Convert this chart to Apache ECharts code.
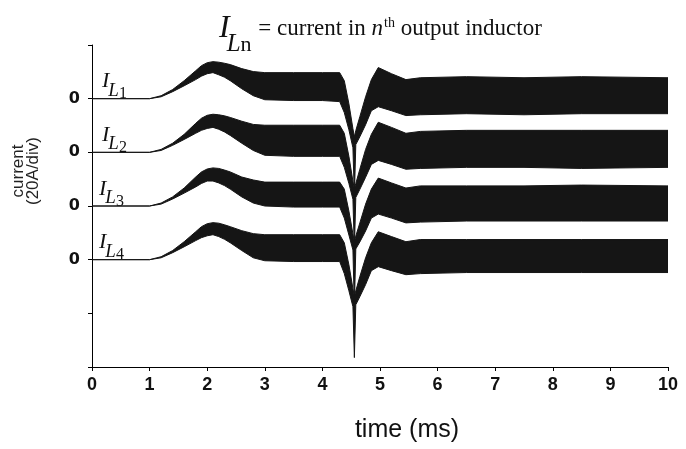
<!DOCTYPE html>
<html>
<head>
<meta charset="utf-8">
<script src="https://cdn.jsdelivr.net/npm/echarts@6/dist/echarts.min.js"></script>
<style>
html,body{margin:0;padding:0;background:#fff;}
#chart{width:686px;height:449px;}
</style>
</head>
<body>
<div id="chart"></div>
<script>
// ---- data (time in ms, current envelopes in A, relative to each trace's zero) ----
const timeMs = [0, 1.0, 1.2, 1.4, 1.6, 1.8, 1.9, 2.0, 2.1, 2.2, 2.3, 2.4, 2.6, 2.8, 3.0, 3.5, 4.0, 4.3, 4.38, 4.46, 4.53, 4.555, 4.58, 4.65, 4.75, 4.85, 4.97, 5.2, 5.45, 5.7, 6.5, 7.5, 8.5, 10.0];

const il1Upper = [0,0,1.1,3.4,6.7,10.4,12.3,13.4,13.8,13.6,13.2,12.7,11.2,10.1,9.7,9.7,9.7,9.7,6.7,-1.9,-11.2,-14.2,-11.9,-6.7,0.7,7.1,11.6,9.3,7.1,7.8,8.2,7.8,8.2,7.8];
const il1Lower = [0,0,0.7,2.6,4.8,7.1,8.4,9.3,9.7,8.9,8.0,6.7,3.7,1.1,-0.4,-0.7,-0.7,-1.1,-5.2,-11.6,-18.3,-36.5,-17.1,-14.2,-9.7,-4.5,-3.0,-4.5,-6.3,-6.0,-5.6,-6.0,-5.6,-5.6];

const il2Upper = [0,0,1.1,3.4,6.7,10.8,12.7,13.8,14.2,14.0,13.6,13.0,11.6,10.4,10.1,10.1,10.1,10.1,7.1,-1.5,-10.8,-13.8,-11.6,-6.3,1.1,6.7,11.2,9.3,7.1,7.8,8.2,8.2,8.2,8.2];
const il2Lower = [0,0,0.7,2.6,4.8,7.1,8.2,8.9,9.3,8.6,7.6,6.3,3.4,0.7,-1.1,-1.5,-1.5,-1.5,-5.6,-11.6,-17.5,-36.2,-16.8,-13.8,-9.3,-4.5,-3.0,-4.5,-6.3,-6.0,-5.6,-5.6,-6.0,-5.6];

const il3Upper = [0,0,1.1,3.4,6.7,10.8,12.7,13.8,14.2,14.0,13.4,12.7,10.8,9.7,8.9,8.9,8.9,8.9,6.3,-1.9,-10.4,-13.4,-11.2,-6.3,0.7,6.3,10.4,8.6,6.7,7.5,7.5,7.5,7.8,7.5];
const il3Lower = [0,0,0.7,2.6,4.8,7.1,8.4,9.3,9.3,8.6,7.6,6.3,3.4,1.1,0,-0.4,-0.4,-0.4,-4.5,-10.8,-16.4,-37.6,-16.0,-13.4,-9.3,-4.5,-3.0,-4.5,-6.3,-6.0,-5.6,-5.6,-5.6,-5.6];

const il4Upper = [0,0,1.1,3.4,6.7,10.4,12.3,13.4,13.8,13.6,13.0,12.3,10.8,9.7,9.3,9.3,9.3,9.3,6.3,-1.9,-10.8,-13.8,-11.6,-6.3,0.7,6.3,10.4,8.6,6.7,7.5,7.5,7.5,7.5,7.5];
const il4Lower = [0,0,0.7,2.6,4.8,7.1,8.2,8.9,9.3,8.6,7.6,6.3,3.4,0.7,-0.4,-0.7,-0.7,-0.7,-5.2,-11.6,-17.5,-36.5,-16.8,-13.8,-9.3,-4.1,-2.6,-4.1,-5.6,-5.2,-4.8,-4.8,-4.8,-4.8];

const traceIndices = ['1', '2', '3', '4'];
const xTickLabels = ['0','1','2','3','4','5','6','7','8','9','10'];
const ampsPerDiv = 20;

const traces = [
  {upper: il1Upper, lower: il1Lower},
  {upper: il2Upper, lower: il2Lower},
  {upper: il3Upper, lower: il3Lower},
  {upper: il4Upper, lower: il4Lower}
];

// trace i sits with its zero at division (5 - i) of a 6-division axis
const zeroOf = i => (5 - i) * ampsPerDiv;

const INK = '#151515';
const series = traces.map((tr, i) => {
  const base = zeroOf(i);
  return {
    type: 'custom', coordinateSystem: 'cartesian2d', silent: true, clip: true,
    data: timeMs.map((t, k) => [t, base + tr.upper[k], base + tr.lower[k]]),
    encode: {x: 0, y: [1, 2]},
    renderItem: (params, api) => {
      if (params.dataIndex !== 0) return null;
      const pts = [];
      for (let k = 0; k < timeMs.length; k++) pts.push(api.coord([timeMs[k], base + tr.upper[k]]));
      for (let k = timeMs.length - 1; k >= 0; k--) pts.push(api.coord([timeMs[k], base + tr.lower[k]]));
      return {
        type: 'polygon', shape: {points: pts, smooth: 0},
        style: {fill: INK, stroke: INK, lineWidth: 1, lineJoin: 'round'}
      };
    }
  };
});

const chart = echarts.init(document.getElementById('chart'), null, {renderer: 'canvas'});
chart.setOption({
  animation: false,
  backgroundColor: '#fff',
  grid: {left: 92, right: 18, top: 45, bottom: 82},
  xAxis: {
    type: 'value', min: 0, max: 10, interval: 1,
    axisLine: {lineStyle: {color: '#000', width: 1}},
    axisTick: {length: 4, lineStyle: {color: '#000'}},
    splitLine: {show: false},
    axisLabel: {
      margin: 9, color: '#111', fontSize: 18, fontWeight: 'bold',
      fontFamily: '"Liberation Sans", Arial, sans-serif',
      formatter: v => xTickLabels[Math.round(v)]
    }
  },
  yAxis: {
    type: 'value', min: 0, max: 6 * ampsPerDiv, interval: ampsPerDiv,
    axisLine: {show: true, lineStyle: {color: '#000', width: 1}},
    axisTick: {show: true, length: 4, lineStyle: {color: '#000'}},
    splitLine: {show: false},
    axisLabel: {
      margin: 12, color: '#111', fontSize: 16, fontWeight: 'bold',
      fontFamily: '"DejaVu Sans", sans-serif',
      formatter: v => (v >= zeroOf(3) && v <= zeroOf(0) && v % ampsPerDiv === 0) ? '0' : ''
    }
  },
  series: series
});

// ---- text annotations ----
const ctx = document.createElement('canvas').getContext('2d');
const measure = (text, font) => { ctx.font = font; return ctx.measureText(text).width; };
const SERIF = '"Liberation Serif", "Times New Roman", serif';
const SANS = '"Liberation Sans", Arial, sans-serif';

function piece(text, x, baseline, size, style, family, fill) {
  const font = `${style} ${size}px ${family}`;
  return {
    el: {
      type: 'text', silent: true,
      style: {
        text: text, x: x, y: baseline - 0.32 * size, font: font, fill: fill || '#111',
        align: 'left', textAlign: 'left', verticalAlign: 'middle', textVerticalAlign: 'middle'
      }
    },
    w: measure(text, font)
  };
}

const graphics = [];
// Title: I_Ln = current in n^th output inductor
(function () {
  let x = 219;
  const parts = [
    ['I', 39, 32, 'italic', 0],
    ['L', 52, 25, 'italic', -3],
    ['n', 52, 22, 'normal', 0],
    [' = current in ', 36, 23, 'normal', 1],
    ['n', 36, 23, 'italic', 0],
    ['th', 28, 14, 'normal', 1],
    [' output inductor', 36, 23, 'normal', 0]
  ];
  parts.forEach(p => {
    x += p[4];
    const pc = piece(p[0], x, p[1], p[2], p[3], SERIF);
    graphics.push(pc.el);
    x += pc.w;
  });
})();

// Trace labels I_L1 ... I_L4
traceIndices.forEach((idx, i) => {
  const zy = chart.convertToPixel({gridIndex: 0}, [0, zeroOf(i)])[1];
  let x = i >= 2 ? 99 : 102;
  let pc = piece('I', x, zy - 10, 22, 'italic', SERIF);
  graphics.push(pc.el); x += pc.w - 1;
  pc = piece('L', x, zy - 2, 19, 'italic', SERIF);
  graphics.push(pc.el); x += pc.w;
  pc = piece(idx, x, zy + 0.5, 16, 'normal', SERIF);
  graphics.push(pc.el);
});

// Axis names
graphics.push({
  type: 'text', silent: true, x: 26, y: 171, rotation: Math.PI / 2,
  style: {
    text: 'current\n(20A/div)', x: 0, y: 0, font: `17px ${SANS}`, fill: '#222', lineHeight: 15,
    align: 'center', textAlign: 'center', verticalAlign: 'middle', textVerticalAlign: 'middle'
  }
});
graphics.push({
  type: 'text', silent: true,
  style: {
    text: 'time (ms)', x: 407, y: 430, font: `25px ${SANS}`, fill: '#111',
    align: 'center', textAlign: 'center', verticalAlign: 'middle', textVerticalAlign: 'middle'
  }
});

chart.setOption({graphic: graphics});
</script>
</body>
</html>
